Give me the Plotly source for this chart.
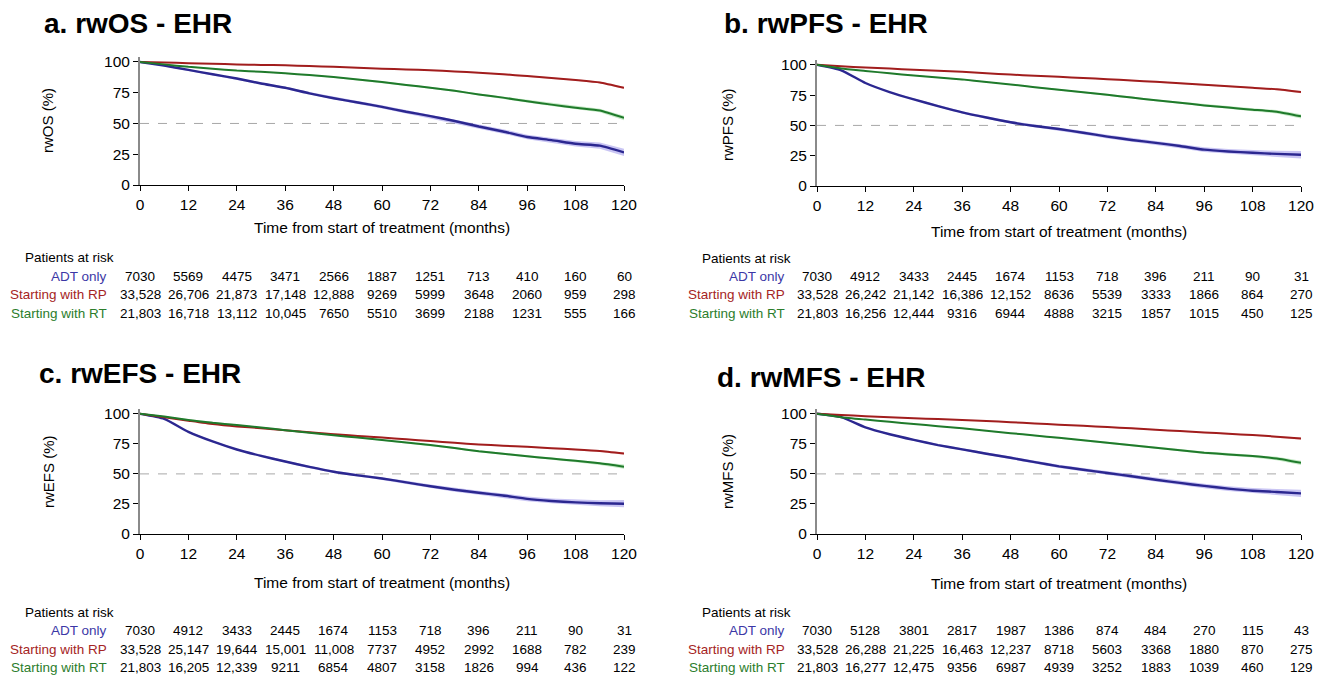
import plotly.graph_objects as go

W, H = 1327, 676

# ---------------- data ----------------
months = [0, 6, 12, 18, 24, 30, 36, 42, 48, 54, 60, 66, 72, 78, 84, 90, 96, 102, 108, 114, 120]
risk_months = [0, 12, 24, 36, 48, 60, 72, 84, 96, 108, 120]
groups = ["ADT only", "Starting with RP", "Starting with RT"]

# a. rwOS
os_adt = [100, 97, 93.5, 90, 86.5, 82.5, 79, 74.5, 70.5, 67, 63.5, 59.5, 56, 52, 47.5, 43.5, 39, 36.5, 33.5, 32, 26.5]
os_rp = [100, 99.6, 99, 98.5, 98, 97.6, 97.2, 96.6, 96, 95.2, 94.5, 93.9, 93.2, 92.3, 91.3, 90, 88.5, 87, 85.3, 83.3, 79]
os_rt = [100, 98, 96, 94.5, 93, 92, 90.7, 89.3, 87.7, 85.7, 83.6, 81.3, 79, 76.5, 73.6, 71, 68, 65.3, 62.7, 60.5, 54.5]

# b. rwPFS
pfs_adt = [100, 95.5, 85, 77.5, 71.5, 66, 60.8, 56.5, 52.6, 49.5, 47, 44, 40.8, 38, 35.6, 33, 30, 28.5, 27.4, 26.5, 25.8]
pfs_rp = [100, 98.8, 97.8, 96.9, 96, 95.1, 94.2, 93.1, 92, 91, 90.1, 89.1, 88.2, 87.1, 86, 84.8, 83.6, 82.3, 81, 79.8, 77.5]
pfs_rt = [100, 97, 95, 93, 91.2, 89.6, 88, 85.9, 83.8, 81.6, 79.5, 77.4, 75.3, 73, 70.7, 68.7, 66.5, 64.7, 63, 61.3, 57.5]

# c. rwEFS
efs_adt = [100, 95.8, 85, 77, 70.3, 65, 60.3, 55.8, 51.8, 48.8, 46.2, 43, 39.7, 36.8, 34.3, 32, 29.2, 27.5, 26.3, 25.6, 25.2]
efs_rp = [100, 97.2, 94.3, 91.5, 89.5, 88, 86.4, 84.7, 83, 81.6, 80.2, 78.8, 77.3, 75.9, 74.5, 73.5, 72.5, 71.4, 70.3, 69, 66.9]
efs_rt = [100, 97.7, 94.9, 92.5, 90.7, 88.6, 86.4, 84.3, 82.2, 80.2, 78.2, 76.1, 74, 71.5, 68.8, 66.7, 64.6, 62.8, 60.9, 58.8, 56]

# d. rwMFS
mfs_adt = [100, 97.2, 88.7, 83, 78.3, 74, 70.4, 66.8, 63.4, 59.8, 56.3, 53.5, 50.7, 48, 45.1, 42.5, 40, 37.8, 36, 35, 33.8]
mfs_rp = [100, 99, 98, 97.1, 96.3, 95.6, 94.9, 94, 93, 92, 91, 90, 89, 87.9, 86.8, 85.6, 84.5, 83.4, 82.3, 81, 79.4]
mfs_rt = [100, 97.2, 95.2, 93.3, 91.5, 89.7, 87.9, 85.9, 83.9, 82, 80, 78, 76, 73.9, 71.8, 69.7, 67.6, 66.2, 64.8, 62.8, 59.2]

# confidence band half-widths (percentage points)
ci_adt = [0, 0.3, 0.5, 0.6, 0.7, 0.8, 0.9, 1.0, 1.1, 1.2, 1.3, 1.4, 1.5, 1.6, 1.7, 1.8, 1.9, 2.0, 2.2, 2.5, 3.0]
ci_rp = [0, 0.1, 0.1, 0.1, 0.2, 0.2, 0.2, 0.2, 0.3, 0.3, 0.3, 0.3, 0.4, 0.4, 0.4, 0.5, 0.5, 0.6, 0.6, 0.7, 0.9]
ci_rt = [0, 0.1, 0.2, 0.3, 0.3, 0.4, 0.4, 0.5, 0.5, 0.6, 0.6, 0.7, 0.7, 0.8, 0.8, 0.9, 1.0, 1.1, 1.2, 1.4, 1.8]

# patients at risk
os_risk_adt = ["7030", "5569", "4475", "3471", "2566", "1887", "1251", "713", "410", "160", "60"]
os_risk_rp = ["33,528", "26,706", "21,873", "17,148", "12,888", "9269", "5999", "3648", "2060", "959", "298"]
os_risk_rt = ["21,803", "16,718", "13,112", "10,045", "7650", "5510", "3699", "2188", "1231", "555", "166"]

pfs_risk_adt = ["7030", "4912", "3433", "2445", "1674", "1153", "718", "396", "211", "90", "31"]
pfs_risk_rp = ["33,528", "26,242", "21,142", "16,386", "12,152", "8636", "5539", "3333", "1866", "864", "270"]
pfs_risk_rt = ["21,803", "16,256", "12,444", "9316", "6944", "4888", "3215", "1857", "1015", "450", "125"]

efs_risk_adt = ["7030", "4912", "3433", "2445", "1674", "1153", "718", "396", "211", "90", "31"]
efs_risk_rp = ["33,528", "25,147", "19,644", "15,001", "11,008", "7737", "4952", "2992", "1688", "782", "239"]
efs_risk_rt = ["21,803", "16,205", "12,339", "9211", "6854", "4807", "3158", "1826", "994", "436", "122"]

mfs_risk_adt = ["7030", "5128", "3801", "2817", "1987", "1386", "874", "484", "270", "115", "43"]
mfs_risk_rp = ["33,528", "26,288", "21,225", "16,463", "12,237", "8718", "5603", "3368", "1880", "870", "275"]
mfs_risk_rt = ["21,803", "16,277", "12,475", "9356", "6987", "4939", "3252", "1883", "1039", "460", "129"]

panel_titles = ["a. rwOS - EHR", "b. rwPFS - EHR", "c. rwEFS - EHR", "d. rwMFS - EHR"]
y_titles = ["rwOS (%)", "rwPFS (%)", "rwEFS (%)", "rwMFS (%)"]
x_title = "Time from start of treatment (months)"
x_ticks = [0, 12, 24, 36, 48, 60, 72, 84, 96, 108, 120]
y_ticks = [0, 25, 50, 75, 100]

# ---------------- style ----------------
FONT = "Liberation Sans, Arial, Helvetica, sans-serif"
line_col = {"ADT only": "#2b2790", "Starting with RP": "#a11d1d", "Starting with RT": "#1f7a2b"}
band_col = {"ADT only": "rgba(120,110,225,0.40)", "Starting with RP": "rgba(220,110,110,0.35)",
            "Starting with RT": "rgba(110,200,110,0.40)"}
text_col = {"ADT only": "#3c37a6", "Starting with RP": "#a52424", "Starting with RT": "#2c7d2c"}
line_w = {"ADT only": 2.4, "Starting with RP": 2.0, "Starting with RT": 2.0}

def px(x):
    return x / W

def py(y):
    return 1 - y / H

panels = [
    dict(x0=140, x1=624, ytop=57, ybot=185, title=(42, 23), ytitle=(48, 121), xtitle=228,
         risk_y=(257, 276, 294, 313), lab_right=109, pat_left=23),
    dict(x0=817, x1=1301, ytop=60, ybot=186, title=(722, 23), ytitle=(727, 125), xtitle=232,
         risk_y=(258, 276, 294, 313), lab_right=787, pat_left=700),
    dict(x0=140, x1=624, ytop=409, ybot=534, title=(37, 373), ytitle=(48, 472), xtitle=582,
         risk_y=(612, 630, 649, 667), lab_right=109, pat_left=23),
    dict(x0=817, x1=1301, ytop=409, ybot=534, title=(715, 377), ytitle=(727, 472), xtitle=583,
         risk_y=(612, 630, 649, 667), lab_right=787, pat_left=700),
]

curves = [
    (os_adt, os_rp, os_rt),
    (pfs_adt, pfs_rp, pfs_rt),
    (efs_adt, efs_rp, efs_rt),
    (mfs_adt, mfs_rp, mfs_rt),
]
risks = [
    (os_risk_adt, os_risk_rp, os_risk_rt),
    (pfs_risk_adt, pfs_risk_rp, pfs_risk_rt),
    (efs_risk_adt, efs_risk_rp, efs_risk_rt),
    (mfs_risk_adt, mfs_risk_rp, mfs_risk_rt),
]
cis = (ci_adt, ci_rp, ci_rt)

fig = go.Figure()
annotations = []
shapes = []

for i, p in enumerate(panels):
    k = "" if i == 0 else str(i + 1)
    xa, ya = "x" + k, "y" + k
    for g, vals, ci in zip(groups, curves[i], cis):
        up = [v + c for v, c in zip(vals, ci)]
        lo = [v - c for v, c in zip(vals, ci)]
        fig.add_trace(go.Scatter(x=months + months[::-1], y=up + lo[::-1], fill="toself",
                                 fillcolor=band_col[g], line=dict(width=0), mode="lines",
                                 hoverinfo="skip", showlegend=False, xaxis=xa, yaxis=ya))
    for g, vals in zip(groups, curves[i]):
        fig.add_trace(go.Scatter(x=months, y=vals, mode="lines", name=g,
                                 line=dict(color=line_col[g], width=line_w[g], shape="spline", smoothing=0.5),
                                 showlegend=False, xaxis=xa, yaxis=ya))
    axis_common = dict(showgrid=False, zeroline=False, ticks="outside", ticklen=5, tickwidth=1,
                       tickcolor="black", tickfont=dict(family=FONT, size=15.5, color="black"))
    fig.update_layout({
        ("xaxis" + k): dict(domain=[px(p["x0"]), px(p["x1"])], range=[0, 120], anchor=ya,
                            tickvals=x_ticks, showline=True, linecolor="black", linewidth=1,
                            automargin=False, **axis_common),
        ("yaxis" + k): dict(domain=[py(p["ybot"]), py(p["ytop"])], range=[0, 104], anchor=xa,
                            tickvals=y_ticks, showline=True, linecolor="#8a8a8a", linewidth=2,
                            automargin=False, **axis_common),
    })
    shapes.append(dict(type="line", xref=xa, yref=ya, x0=0, x1=120, y0=50, y1=50,
                       line=dict(color="#a8a8a8", width=1, dash="dash"), layer="below"))
    annotations.append(dict(text="<b>" + panel_titles[i] + "</b>", x=px(p["title"][0]), y=py(p["title"][1]),
                            xref="paper", yref="paper", xanchor="left", yanchor="middle", showarrow=False,
                            font=dict(family=FONT, size=28, color="black")))
    annotations.append(dict(text=y_titles[i], x=px(p["ytitle"][0]), y=py(p["ytitle"][1]), textangle=-90,
                            xref="paper", yref="paper", xanchor="center", yanchor="middle", showarrow=False,
                            font=dict(family=FONT, size=15, color="black")))
    annotations.append(dict(text=x_title, x=px((p["x0"] + p["x1"]) / 2), y=py(p["xtitle"]),
                            xref="paper", yref="paper", xanchor="center", yanchor="middle", showarrow=False,
                            font=dict(family=FONT, size=15.5, color="black")))
    ry = p["risk_y"]
    annotations.append(dict(text="Patients at risk", x=px(p["pat_left"]), y=py(ry[0]),
                            xref="paper", yref="paper", xanchor="left", yanchor="middle", showarrow=False,
                            font=dict(family=FONT, size=13.5, color="black")))
    for j, g in enumerate(groups):
        annotations.append(dict(text=g, x=px(p["lab_right"]), y=py(ry[j + 1]),
                                xref="paper", yref="paper", xanchor="right", yanchor="middle", showarrow=False,
                                font=dict(family=FONT, size=13.5, color=text_col[g])))
        for m, val in zip(risk_months, risks[i][j]):
            annotations.append(dict(text=val, x=m, y=py(ry[j + 1]), xref=xa, yref="paper",
                                    xanchor="center", yanchor="middle", showarrow=False,
                                    font=dict(family=FONT, size=13.5, color="black")))

fig.update_layout(width=W, height=H, margin=dict(l=0, r=0, t=0, b=0, autoexpand=False),
                  paper_bgcolor="white", plot_bgcolor="white",
                  annotations=annotations, shapes=shapes, showlegend=False)

fig.write_html("out.html", config={"displayModeBar": False},
               post_script="document.body.style.margin='0';document.body.style.overflow='hidden';")
